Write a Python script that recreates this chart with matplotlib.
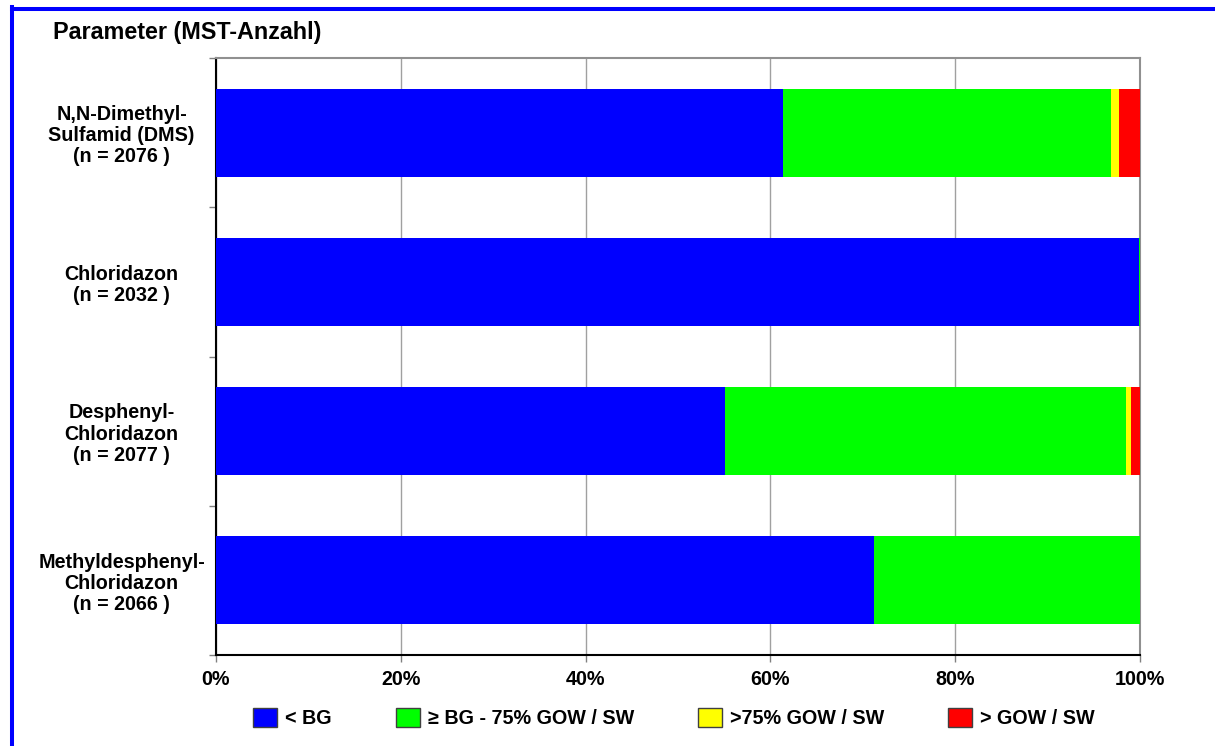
import numpy as np
import matplotlib
matplotlib.use("Agg")
import matplotlib.pyplot as plt
from matplotlib.lines import Line2D
from matplotlib.ticker import FixedLocator, PercentFormatter

plt.rcParams['font.family'] = ['Liberation Sans', 'DejaVu Sans']
plt.rcParams['font.weight'] = 'bold'

# Data (shares in percent of measuring points)
labels = [
    "N,N-Dimethyl-\nSulfamid (DMS)\n(n = 2076 )",
    "Chloridazon\n(n = 2032 )",
    "Desphenyl-\nChloridazon\n(n = 2077 )",
    "Methyldesphenyl-\nChloridazon\n(n = 2066 )",
]
below_bg = [61.4, 99.9, 55.1, 71.2]
bg_to_75 = [35.5, 0.1, 43.4, 28.8]
over_75 = [0.8, 0.0, 0.5, 0.0]
over_gow = [2.3, 0.0, 1.0, 0.0]

series = [below_bg, bg_to_75, over_75, over_gow]
series_names = ["< BG", "\u2265 BG - 75% GOW / SW", ">75% GOW / SW", "> GOW / SW"]
colors = ["#0000FF", "#00FF00", "#FFFF00", "#FF0000"]

W, H = 1215, 746
fs = 14.2
fig = plt.figure(figsize=(W / 100, H / 100), dpi=100)
ax = fig.add_axes([216 / W, 1 - 655 / H, (1140 - 216) / W, (655 - 58) / H])

y = np.arange(len(labels))
left = np.zeros(len(labels))
for vals, name, col in zip(series, series_names, colors):
    vals = np.array(vals)
    ax.barh(y, vals, left=left, height=0.59, color=col, label=name,
            edgecolor='none', zorder=3)
    left += vals

ax.set_xlim(0, 100)
ax.set_ylim(len(labels) - 0.5, -0.5)

# x axis
ax.set_xticks(np.arange(0, 101, 20))
ax.xaxis.set_major_formatter(PercentFormatter(decimals=0))
ax.tick_params(axis='x', length=5, width=1, color='#808080', pad=6,
               labelsize=fs)
ax.grid(axis='x', color='#a0a0a0', linewidth=1, zorder=0)

# y axis: labels at bar centres, ticks at category boundaries
ax.set_yticks(y)
ax.set_yticklabels(labels, ha='center', multialignment='center',
                   fontsize=fs, linespacing=1.15)
ax.tick_params(axis='y', which='major', length=0, pad=68)
ax.yaxis.set_minor_locator(FixedLocator(np.arange(-0.5, len(labels), 1.0)))
ax.tick_params(axis='y', which='minor', length=5, width=1, color='#808080')

for side in ['top', 'right']:
    ax.spines[side].set_color('#909090')
    ax.spines[side].set_linewidth(1.5)
for side in ['left', 'bottom']:
    ax.spines[side].set_color('black')
    ax.spines[side].set_linewidth(1.5)

fig.text(53 / W, 1 - 39 / H, "Parameter (MST-Anzahl)", fontsize=16.8,
         fontweight='bold', va='baseline', ha='left')

leg = fig.legend(loc='center', bbox_to_anchor=(674 / W, 1 - 718 / H), ncol=4,
                 frameon=False, fontsize=fs, handlelength=1.22,
                 handleheight=1.1, handletextpad=0.4, columnspacing=3.25)
for h in leg.legend_handles:
    h.set_edgecolor('#404040')
    h.set_linewidth(1)

# blue frame (top and left edge visible)
fig.add_artist(Line2D([12 / W, 1.0], [1 - 8.7 / H, 1 - 8.7 / H],
                      color='#0000FF', linewidth=2.9, transform=fig.transFigure))
fig.add_artist(Line2D([12 / W, 12 / W], [0.0, 1 - 7 / H],
                      color='#0000FF', linewidth=2.9, transform=fig.transFigure))

fig.savefig("out.png", dpi=100)
